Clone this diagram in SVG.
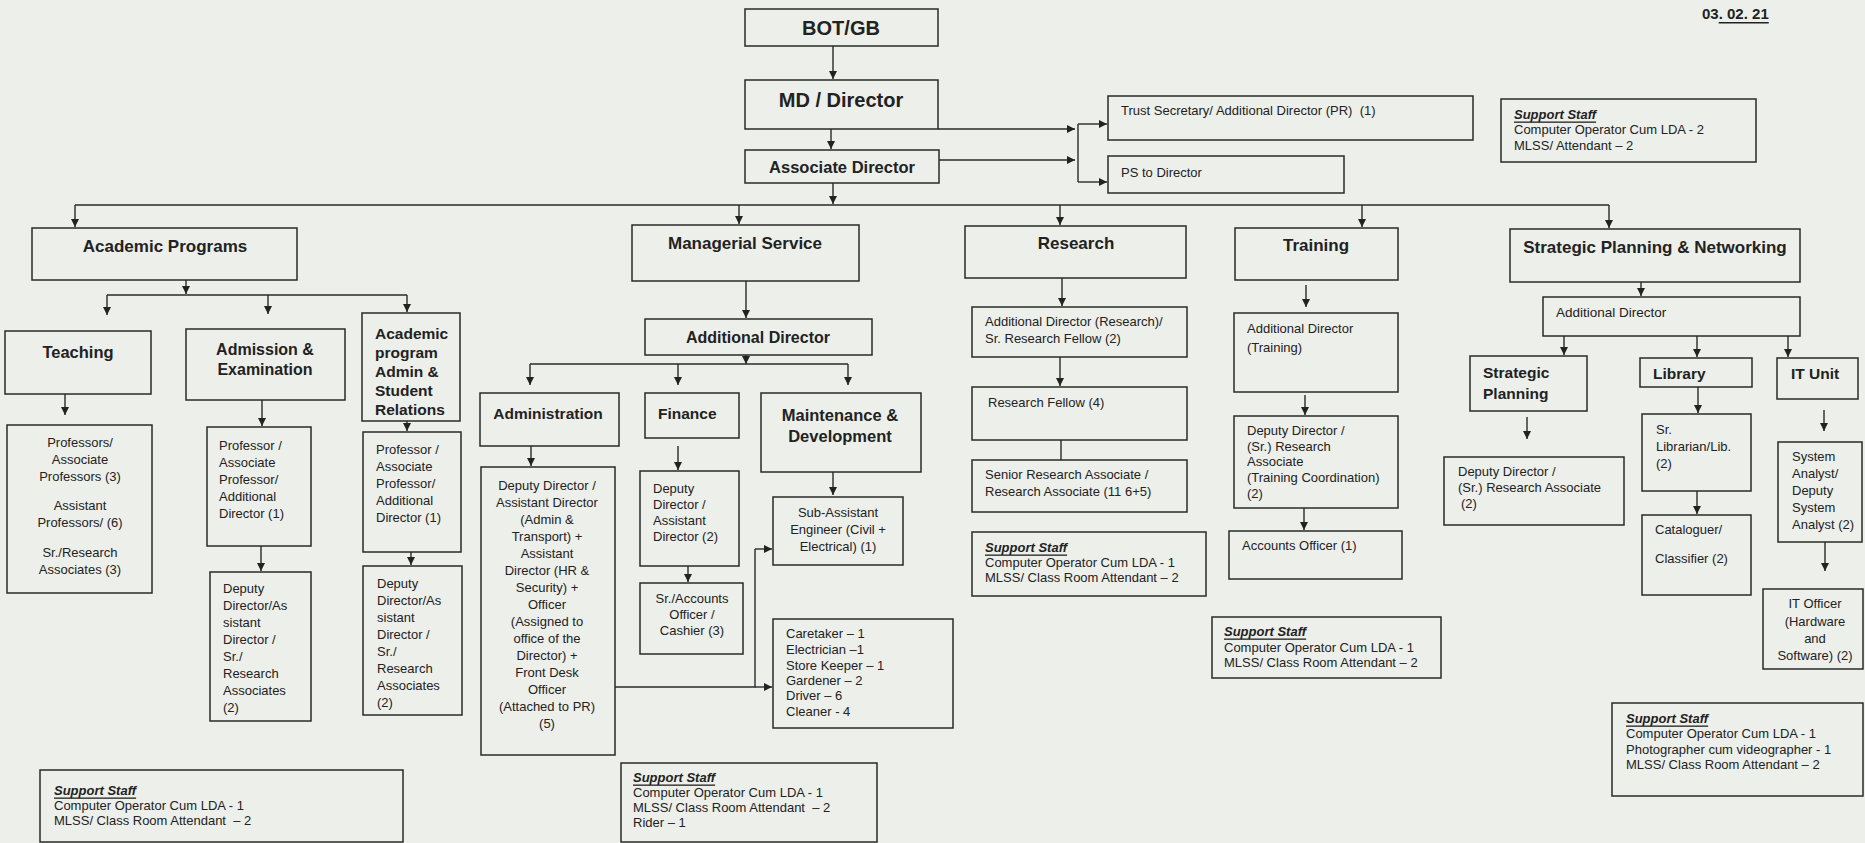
<svg xmlns="http://www.w3.org/2000/svg" width="1865" height="843" viewBox="0 0 1865 843">
<defs>
<marker id="ah" viewBox="0 0 10 10" refX="10" refY="5" markerWidth="8" markerHeight="8" markerUnits="userSpaceOnUse" orient="auto"><path d="M0,0 L10,5 L0,10 z" fill="#222"/></marker>
<style>
.b{fill:none;stroke:#2a2a2a;stroke-width:1.5}
.c{fill:none;stroke:#2a2a2a;stroke-width:1.4}
.a{fill:none;stroke:#2a2a2a;stroke-width:1.4;marker-end:url(#ah)}
text{font-family:"Liberation Sans",Arial,sans-serif;fill:#222;dominant-baseline:central}
.h1{font-size:20px;font-weight:bold;text-anchor:middle}
.h2{font-size:17px;font-weight:bold;text-anchor:middle}
.h3{font-size:15.5px;font-weight:bold}
.s{font-size:13px}
.m{text-anchor:middle}
.ss{font-size:13px;font-weight:bold;font-style:italic;text-decoration:underline}
</style>
</defs>
<rect x="0" y="0" width="1865" height="843" fill="#edefeb"/>

<g id="connectors">
<line class="a" x1="833" y1="46" x2="833" y2="79"/>
<line class="a" x1="831" y1="129" x2="831" y2="149"/>
<line class="a" x1="833" y1="183" x2="833" y2="204"/>
<line class="a" x1="938" y1="129" x2="1075" y2="129"/>
<line class="a" x1="939" y1="160" x2="1075" y2="160"/>
<line class="c" x1="1078" y1="124" x2="1078" y2="182"/>
<line class="a" x1="1078" y1="124" x2="1107" y2="124"/>
<line class="a" x1="1078" y1="182" x2="1107" y2="182"/>
<line class="c" x1="75" y1="205" x2="1609" y2="205"/>
<line class="a" x1="75" y1="205" x2="75" y2="227"/>
<line class="a" x1="739" y1="205" x2="739" y2="224"/>
<line class="a" x1="1060" y1="205" x2="1060" y2="225"/>
<line class="a" x1="1362" y1="205" x2="1362" y2="227"/>
<line class="a" x1="1609" y1="205" x2="1609" y2="228"/>
<!-- academic -->
<line class="a" x1="186" y1="280" x2="186" y2="294"/>
<line class="c" x1="107" y1="295" x2="407" y2="295"/>
<line class="a" x1="107" y1="295" x2="107" y2="315"/>
<line class="a" x1="268" y1="295" x2="268" y2="314"/>
<line class="a" x1="407" y1="295" x2="407" y2="312"/>
<line class="a" x1="65" y1="394" x2="65" y2="415"/>
<line class="a" x1="262" y1="400" x2="262" y2="426"/>
<line class="a" x1="407" y1="421" x2="407" y2="431"/>
<line class="a" x1="261" y1="546" x2="261" y2="571"/>
<line class="a" x1="411" y1="552" x2="411" y2="565"/>
<!-- managerial -->
<line class="a" x1="746" y1="281" x2="746" y2="318"/>
<line class="a" x1="746" y1="355" x2="746" y2="364"/>
<line class="c" x1="530" y1="364" x2="848" y2="364"/>
<line class="a" x1="530" y1="364" x2="530" y2="385"/>
<line class="a" x1="678" y1="364" x2="678" y2="385"/>
<line class="a" x1="848" y1="364" x2="848" y2="385"/>
<line class="a" x1="531" y1="446" x2="531" y2="466"/>
<line class="a" x1="678" y1="446" x2="678" y2="470"/>
<line class="a" x1="833" y1="472" x2="833" y2="495"/>
<line class="a" x1="688" y1="566" x2="688" y2="582"/>
<polyline class="c" points="615,687 755,687 755,549"/>
<line class="a" x1="755" y1="549" x2="772" y2="549"/>
<line class="a" x1="755" y1="687" x2="772" y2="687"/>
<!-- research -->
<line class="a" x1="1062" y1="278" x2="1062" y2="306"/>
<line class="a" x1="1060" y1="357" x2="1060" y2="386"/>
<line class="c" x1="1061" y1="440" x2="1061" y2="460"/>
<!-- training -->
<line class="a" x1="1306" y1="285" x2="1306" y2="307"/>
<line class="a" x1="1305" y1="395" x2="1305" y2="415"/>
<line class="a" x1="1304" y1="508" x2="1304" y2="530"/>
<!-- strategic -->
<line class="a" x1="1641" y1="282" x2="1641" y2="296"/>
<line class="a" x1="1564" y1="336" x2="1564" y2="355"/>
<line class="a" x1="1697" y1="336" x2="1697" y2="357"/>
<line class="a" x1="1788" y1="336" x2="1788" y2="357"/>
<line class="a" x1="1527" y1="417" x2="1527" y2="439"/>
<line class="a" x1="1698" y1="387" x2="1698" y2="413"/>
<line class="a" x1="1697" y1="491" x2="1697" y2="514"/>
<line class="a" x1="1824" y1="410" x2="1824" y2="431"/>
<line class="a" x1="1825" y1="542" x2="1825" y2="571"/>
</g>

<text x="1702" y="13" style="font-size:15px;font-weight:bold">03<tspan style="text-decoration:underline">. 02. 21</tspan></text>

<g id="bot"><rect class="b" x="745" y="9" width="193" height="37"/><text class="h1" x="841" y="28">BOT/GB</text></g>
<g id="md"><rect class="b" x="745" y="80" width="193" height="49"/><text class="h1" x="841" y="100">MD / Director</text></g>
<g id="assoc"><rect class="b" x="745" y="150" width="194" height="33"/><text class="h2" x="842" y="167" style="font-size:16.5px">Associate Director</text></g>
<g id="trust"><rect class="b" x="1108" y="96" width="365" height="44"/><text class="s" x="1121" y="110">Trust Secretary/ Additional Director (PR)&#160; (1)</text></g>
<g id="ps"><rect class="b" x="1108" y="156" width="236" height="37"/><text class="s" x="1121" y="172">PS to Director</text></g>
<g id="support-top"><rect class="b" x="1501" y="99" width="255" height="63"/>
<text class="ss" x="1514" y="114">Support Staff</text>
<text class="s" x="1514" y="129">Computer Operator Cum LDA - 2</text>
<text class="s" x="1514" y="145">MLSS/ Attendant – 2</text></g>

<g id="academic"><rect class="b" x="32" y="228" width="265" height="52"/><text class="h2" x="165" y="246">Academic Programs</text></g>
<g id="managerial"><rect class="b" x="632" y="225" width="227" height="56"/><text class="h2" x="745" y="243">Managerial Service</text></g>
<g id="research"><rect class="b" x="965" y="226" width="221" height="52"/><text class="h2" x="1076" y="243">Research</text></g>
<g id="training"><rect class="b" x="1235" y="228" width="163" height="52"/><text class="h2" x="1316" y="245">Training</text></g>
<g id="strategic"><rect class="b" x="1510" y="229" width="290" height="53"/><text class="h2" x="1655" y="247">Strategic Planning &amp; Networking</text></g>

<g id="teaching"><rect class="b" x="5" y="331" width="146" height="63"/><text class="h2" x="78" y="352" style="font-size:16.5px">Teaching</text></g>
<g id="admission"><rect class="b" x="186" y="329" width="159" height="71"/><text class="h2" x="265" y="349" style="font-size:16px">Admission &amp;</text><text class="h2" x="265" y="369" style="font-size:16px">Examination</text></g>
<g id="acad-admin"><rect class="b" x="362" y="313" width="98" height="108"/>
<text class="h3" x="375" y="333">Academic</text><text class="h3" x="375" y="352">program</text><text class="h3" x="375" y="371">Admin &amp;</text><text class="h3" x="375" y="390">Student</text><text class="h3" x="375" y="409">Relations</text></g>
<g id="teaching-staff"><rect class="b" x="7" y="425" width="145" height="168"/>
<text class="s m" x="80" y="442">Professors/</text><text class="s m" x="80" y="459">Associate</text><text class="s m" x="80" y="476">Professors (3)</text>
<text class="s m" x="80" y="505">Assistant</text><text class="s m" x="80" y="522">Professors/ (6)</text>
<text class="s m" x="80" y="552">Sr./Research</text><text class="s m" x="80" y="569">Associates (3)</text></g>
<g id="adm-prof"><rect class="b" x="207" y="427" width="104" height="119"/>
<text class="s" x="219" y="445">Professor /</text><text class="s" x="219" y="462">Associate</text><text class="s" x="219" y="479">Professor/</text><text class="s" x="219" y="496">Additional</text><text class="s" x="219" y="513">Director (1)</text></g>
<g id="acad-prof"><rect class="b" x="363" y="432" width="98" height="120"/>
<text class="s" x="376" y="449">Professor /</text><text class="s" x="376" y="466">Associate</text><text class="s" x="376" y="483">Professor/</text><text class="s" x="376" y="500">Additional</text><text class="s" x="376" y="517">Director (1)</text></g>
<g id="adm-deputy"><rect class="b" x="210" y="572" width="101" height="149"/>
<text class="s" x="223" y="588">Deputy</text><text class="s" x="223" y="605">Director/As</text><text class="s" x="223" y="622">sistant</text><text class="s" x="223" y="639">Director /</text><text class="s" x="223" y="656">Sr./</text><text class="s" x="223" y="673">Research</text><text class="s" x="223" y="690">Associates</text><text class="s" x="223" y="707">(2)</text></g>
<g id="acad-deputy"><rect class="b" x="363" y="566" width="99" height="149"/>
<text class="s" x="377" y="583">Deputy</text><text class="s" x="377" y="600">Director/As</text><text class="s" x="377" y="617">sistant</text><text class="s" x="377" y="634">Director /</text><text class="s" x="377" y="651">Sr./</text><text class="s" x="377" y="668">Research</text><text class="s" x="377" y="685">Associates</text><text class="s" x="377" y="702">(2)</text></g>
<g id="support-academic"><rect class="b" x="40" y="770" width="363" height="72"/>
<text class="ss" x="54" y="790">Support Staff</text>
<text class="s" x="54" y="805">Computer Operator Cum LDA - 1</text>
<text class="s" x="54" y="820">MLSS/ Class Room Attendant&#160; – 2</text></g>

<g id="addl-mgr"><rect class="b" x="645" y="319" width="227" height="36"/><text class="h2" x="758" y="337" style="font-size:16px">Additional Director</text></g>
<g id="administration"><rect class="b" x="480" y="393" width="139" height="53"/><text class="h2" x="548" y="413" style="font-size:15.5px">Administration</text></g>
<g id="finance"><rect class="b" x="645" y="393" width="94" height="45"/><text class="h3" x="658" y="413">Finance</text></g>
<g id="maintenance"><rect class="b" x="761" y="393" width="160" height="79"/><text class="h2" x="840" y="415" style="font-size:16.5px">Maintenance &amp;</text><text class="h2" x="840" y="436" style="font-size:16.5px">Development</text></g>
<g id="admin-staff"><rect class="b" x="481" y="467" width="134" height="288"/>
<text class="s m" x="547" y="485">Deputy Director /</text>
<text class="s m" x="547" y="502">Assistant Director</text>
<text class="s m" x="547" y="519">(Admin &amp;</text>
<text class="s m" x="547" y="536">Transport) +</text>
<text class="s m" x="547" y="553">Assistant</text>
<text class="s m" x="547" y="570">Director (HR &amp;</text>
<text class="s m" x="547" y="587">Security) +</text>
<text class="s m" x="547" y="604">Officer</text>
<text class="s m" x="547" y="621">(Assigned to</text>
<text class="s m" x="547" y="638">office of the</text>
<text class="s m" x="547" y="655">Director) +</text>
<text class="s m" x="547" y="672">Front Desk</text>
<text class="s m" x="547" y="689">Officer</text>
<text class="s m" x="547" y="706">(Attached to PR)</text>
<text class="s m" x="547" y="723">(5)</text></g>
<g id="finance-staff"><rect class="b" x="640" y="471" width="99" height="95"/>
<text class="s" x="653" y="488">Deputy</text><text class="s" x="653" y="504">Director /</text><text class="s" x="653" y="520">Assistant</text><text class="s" x="653" y="536">Director (2)</text></g>
<g id="accounts"><rect class="b" x="640" y="583" width="103" height="71"/>
<text class="s m" x="692" y="598">Sr./Accounts</text><text class="s m" x="692" y="614">Officer /</text><text class="s m" x="692" y="630">Cashier (3)</text></g>
<g id="sub-asst"><rect class="b" x="773" y="497" width="130" height="68"/>
<text class="s m" x="838" y="512">Sub-Assistant</text><text class="s m" x="838" y="529">Engineer (Civil +</text><text class="s m" x="838" y="546">Electrical) (1)</text></g>
<g id="caretaker"><rect class="b" x="773" y="619" width="180" height="109"/>
<text class="s" x="786" y="633">Caretaker – 1</text><text class="s" x="786" y="649">Electrician –1</text><text class="s" x="786" y="665">Store Keeper – 1</text><text class="s" x="786" y="680">Gardener – 2</text><text class="s" x="786" y="695">Driver – 6</text><text class="s" x="786" y="711">Cleaner - 4</text></g>
<g id="support-mgr"><rect class="b" x="621" y="763" width="256" height="79"/>
<text class="ss" x="633" y="777">Support Staff</text>
<text class="s" x="633" y="792">Computer Operator Cum LDA - 1</text>
<text class="s" x="633" y="807">MLSS/ Class Room Attendant&#160; – 2</text>
<text class="s" x="633" y="822">Rider – 1</text></g>

<g id="addl-research"><rect class="b" x="972" y="307" width="215" height="50"/>
<text class="s" x="985" y="321">Additional Director (Research)/</text><text class="s" x="985" y="338">Sr. Research Fellow (2)</text></g>
<g id="research-fellow"><rect class="b" x="972" y="387" width="215" height="53"/><text class="s" x="988" y="402">Research Fellow (4)</text></g>
<g id="senior-ra"><rect class="b" x="972" y="460" width="215" height="52"/>
<text class="s" x="985" y="474">Senior Research Associate /</text><text class="s" x="985" y="491">Research Associate (11 6+5)</text></g>
<g id="support-research"><rect class="b" x="972" y="532" width="234" height="64"/>
<text class="ss" x="985" y="547">Support Staff</text>
<text class="s" x="985" y="562">Computer Operator Cum LDA - 1</text>
<text class="s" x="985" y="577">MLSS/ Class Room Attendant – 2</text></g>

<g id="addl-training"><rect class="b" x="1234" y="313" width="164" height="79"/>
<text class="s" x="1247" y="328">Additional Director</text><text class="s" x="1247" y="347">(Training)</text></g>
<g id="deputy-training"><rect class="b" x="1234" y="416" width="164" height="92"/>
<text class="s" x="1247" y="430">Deputy Director /</text><text class="s" x="1247" y="446">(Sr.) Research</text><text class="s" x="1247" y="461">Associate</text><text class="s" x="1247" y="477">(Training Coordination)</text><text class="s" x="1247" y="493">(2)</text></g>
<g id="accounts-officer"><rect class="b" x="1229" y="531" width="173" height="48"/><text class="s" x="1242" y="545">Accounts Officer (1)</text></g>
<g id="support-training"><rect class="b" x="1212" y="617" width="229" height="61"/>
<text class="ss" x="1224" y="631">Support Staff</text>
<text class="s" x="1224" y="647">Computer Operator Cum LDA - 1</text>
<text class="s" x="1224" y="662">MLSS/ Class Room Attendant – 2</text></g>

<g id="addl-strategic"><rect class="b" x="1543" y="297" width="257" height="39"/><text class="s" x="1556" y="312" style="font-size:13.5px">Additional Director</text></g>
<g id="strategic-planning"><rect class="b" x="1470" y="356" width="117" height="55"/><text class="h3" x="1483" y="372">Strategic</text><text class="h3" x="1483" y="393">Planning</text></g>
<g id="library"><rect class="b" x="1640" y="358" width="112" height="29"/><text class="h3" x="1653" y="373">Library</text></g>
<g id="it-unit"><rect class="b" x="1777" y="358" width="81" height="41"/><text class="h3" x="1791" y="373">IT Unit</text></g>
<g id="strategic-deputy"><rect class="b" x="1444" y="457" width="180" height="68"/>
<text class="s" x="1458" y="471">Deputy Director /</text><text class="s" x="1458" y="487">(Sr.) Research Associate</text><text class="s" x="1461" y="503">(2)</text></g>
<g id="librarian"><rect class="b" x="1642" y="414" width="109" height="77"/>
<text class="s" x="1656" y="429">Sr.</text><text class="s" x="1656" y="446">Librarian/Lib.</text><text class="s" x="1656" y="463">(2)</text></g>
<g id="cataloguer"><rect class="b" x="1642" y="515" width="109" height="80"/>
<text class="s" x="1655" y="529">Cataloguer/</text><text class="s" x="1655" y="558">Classifier (2)</text></g>
<g id="system-analyst"><rect class="b" x="1778" y="442" width="84" height="100"/>
<text class="s" x="1792" y="456">System</text><text class="s" x="1792" y="473">Analyst/</text><text class="s" x="1792" y="490">Deputy</text><text class="s" x="1792" y="507">System</text><text class="s" x="1792" y="524">Analyst (2)</text></g>
<g id="it-officer"><rect class="b" x="1763" y="589" width="100" height="80"/>
<text class="s m" x="1815" y="603">IT Officer</text><text class="s m" x="1815" y="621">(Hardware</text><text class="s m" x="1815" y="638">and</text><text class="s m" x="1815" y="655">Software) (2)</text></g>
<g id="support-strategic"><rect class="b" x="1612" y="703" width="251" height="93"/>
<text class="ss" x="1626" y="718">Support Staff</text>
<text class="s" x="1626" y="733">Computer Operator Cum LDA - 1</text>
<text class="s" x="1626" y="749">Photographer cum videographer - 1</text>
<text class="s" x="1626" y="764">MLSS/ Class Room Attendant – 2</text></g>
</svg>
